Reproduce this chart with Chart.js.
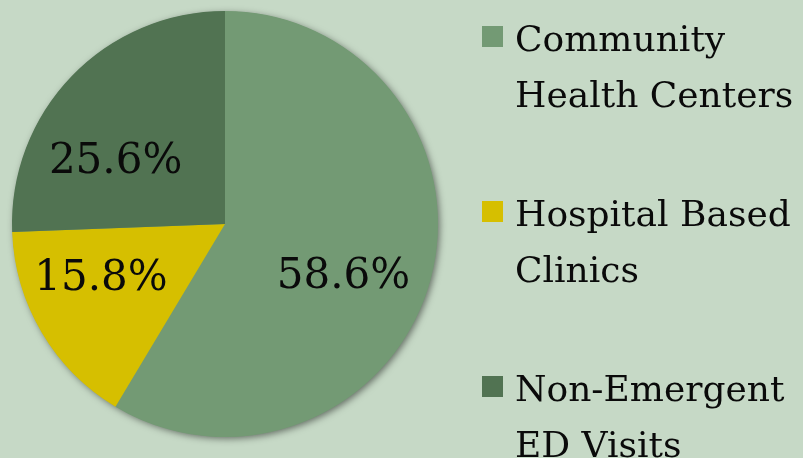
<!DOCTYPE html>
<html>
<head>
<meta charset="utf-8">
<script src="https://cdn.jsdelivr.net/npm/chart.js@4/dist/chart.umd.min.js"></script>
<style>
  html, body { margin: 0; padding: 0; background: #c6d9c6; }
  #wrap { width: 803px; height: 458px; position: relative; }
  canvas { display: block; }
</style>
</head>
<body>
<div id="wrap"><canvas id="c" width="803" height="458"></canvas></div>
<script>
// ---- data ----
const categories = [["Community", "Health Centers"], ["Hospital Based", "Clinics"], ["Non-Emergent", "ED Visits"]];
const shares = [58.6, 15.8, 25.6];
const valueLabels = ["58.6%", "15.8%", "25.6%"];
const sliceColors = ["#739a74", "#d6bf00", "#517352"];

// ---- style ----
const BG = "#c6d9c6";
const SERIF = "'DejaVu Serif', serif";

const bgPlugin = {
  id: "bg",
  beforeDraw(chart) {
    const ctx = chart.ctx;
    ctx.save();
    ctx.fillStyle = BG;
    ctx.fillRect(0, 0, chart.width, chart.height);
    ctx.restore();
  }
};

const shadowPlugin = {
  id: "pieShadow",
  beforeDatasetsDraw(chart) {
    const arc = chart.getDatasetMeta(0).data[0];
    if (!arc) return;
    const p = arc.getProps(["x", "y", "outerRadius"], true);
    const ctx = chart.ctx;
    ctx.save();
    ctx.shadowColor = "rgba(0,0,0,0.5)";
    ctx.shadowBlur = 7;
    ctx.shadowOffsetX = 2;
    ctx.shadowOffsetY = 2;
    ctx.fillStyle = sliceColors[0];
    ctx.beginPath();
    ctx.arc(p.x, p.y, p.outerRadius - 0.5, 0, Math.PI * 2);
    ctx.fill();
    ctx.restore();
  }
};

const valueLabelPlugin = {
  id: "valueLabels",
  afterDatasetsDraw(chart, args, opts) {
    const ctx = chart.ctx;
    const meta = chart.getDatasetMeta(0);
    const size = opts.size;
    ctx.save();
    ctx.font = size + "px " + SERIF;
    ctx.fillStyle = "#0a0a0a";
    ctx.textAlign = "center";
    ctx.textBaseline = "alphabetic";
    meta.data.forEach((arc, i) => {
      const p = arc.getProps(["x", "y", "startAngle", "endAngle", "outerRadius"], true);
      const mid = (p.startAngle + p.endAngle) / 2 + opts.angleShift[i] * Math.PI / 180;
      const r = p.outerRadius * opts.radius[i];
      const cx = p.x + Math.cos(mid) * r;
      const cy = p.y + Math.sin(mid) * r;
      ctx.fillText(valueLabels[i], cx, cy + size * 0.729 / 2);
    });
    ctx.restore();
  }
};

const legendPlugin = {
  id: "sideLegend",
  afterDraw(chart, args, opts) {
    const ctx = chart.ctx;
    ctx.save();
    ctx.font = opts.size + "px " + SERIF;
    ctx.textAlign = "left";
    ctx.textBaseline = "alphabetic";
    chart.data.labels.forEach((lines, i) => {
      const top = opts.top + i * opts.entryGap;
      ctx.fillStyle = chart.data.datasets[0].backgroundColor[i];
      ctx.fillRect(opts.boxX, top + 1, opts.box, opts.box);
      ctx.fillStyle = "#0a0a0a";
      lines.forEach((ln, j) => {
        ctx.fillText(ln, opts.textX, top + opts.size * 0.729 + j * opts.lineGap);
      });
    });
    ctx.restore();
  }
};

new Chart(document.getElementById("c"), {
  type: "pie",
  data: {
    labels: categories,
    datasets: [{
      data: shares,
      backgroundColor: sliceColors,
      borderWidth: 0
    }]
  },
  options: {
    responsive: false,
    animation: false,
    rotation: 0,
    layout: { padding: { left: 12, right: 365, top: 11, bottom: 21 } },
    plugins: {
      legend: { display: false },
      tooltip: { enabled: false },
      valueLabels: { size: 42, radius: [0.602, 0.629, 0.60], angleShift: [7.0, 8.4, -12.8] },
      sideLegend: { size: 36, top: 25, entryGap: 175, lineGap: 56, boxX: 482, box: 21, textX: 515 }
    }
  },
  plugins: [bgPlugin, shadowPlugin, valueLabelPlugin, legendPlugin]
});
</script>
</body>
</html>
